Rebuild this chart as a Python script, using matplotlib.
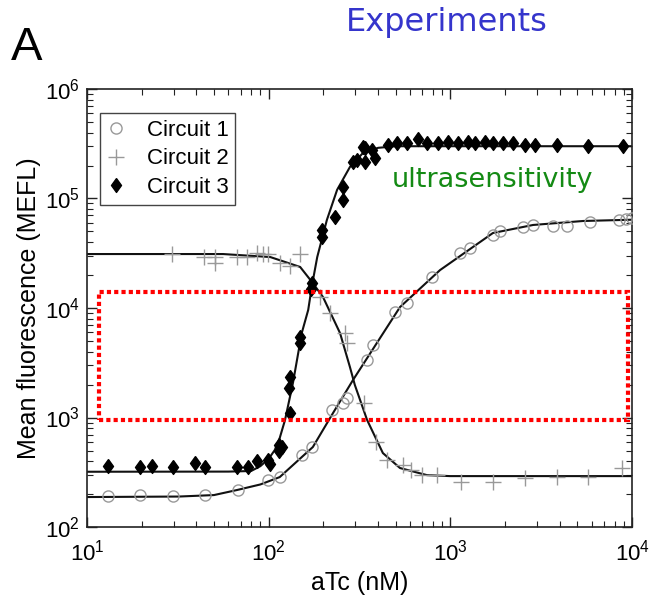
import matplotlib
matplotlib.use('Agg')
import matplotlib.pyplot as plt
from matplotlib.patches import Rectangle

plt.rcParams['font.family'] = ['Liberation Sans', 'DejaVu Sans']
plt.rcParams['mathtext.fontset'] = 'custom'
plt.rcParams['mathtext.rm'] = 'Liberation Sans'
plt.rcParams['mathtext.default'] = 'regular'

# ---------------- data ----------------
# Circuit 1 (open circles)
c1_x = [13, 19.6, 29.7, 44.6, 68, 99, 115, 152, 173, 223, 256, 270, 348, 375,
        494, 580, 792, 1130, 1285, 1714, 1876, 2500, 2850, 3650, 4370, 5850,
        8500, 9300, 10000]
c1_y = [192, 195, 192, 195, 218, 268, 286, 455, 538, 1170, 1370, 1510, 3350,
        4600, 9200, 11100, 19200, 31800, 35000, 46400, 51000, 55000, 57300,
        56000, 56000, 61000, 63500, 65000, 66000]

# Circuit 2 (plus)
c2_x = [29.4, 44, 50.5, 50.5, 67, 76, 86, 93, 99, 115, 131, 149, 192, 217,
        263, 270, 335, 390, 445, 548, 610, 700, 840, 1150, 1714, 2570, 3860,
        5720, 8800]
c2_y = [31100, 29200, 29200, 26000, 29200, 29200, 31500, 31100, 31100, 26000,
        24000, 31000, 12600, 9000, 5900, 4800, 1370, 597, 409, 370, 330, 298,
        300, 258, 258, 280, 285, 285, 346]

# Circuit 3 (filled diamonds)
c3_x = [13, 19.6, 22.8, 29.7, 39.3, 44.6, 67, 77, 86, 99, 102, 114, 114, 118,
        131, 130, 131, 149, 149, 170, 173, 196, 196, 232, 256, 256, 291, 305,
        330, 339, 339, 372, 385,
        454, 508, 577, 663, 744, 855, 970, 1100, 1250, 1366, 1550, 1714, 1946,
        2212, 2574, 2922, 3864, 5720, 8910]
c3_y = [360, 355, 360, 355, 385, 350, 355, 355, 400, 410, 380, 500, 560, 538,
        1100, 1860, 2350, 5430, 4800, 15000, 16900, 51500, 44500, 67800,
        127000, 97000, 215000, 225000, 295000, 290000, 215000, 280000, 235000,
        310000, 320000, 320000, 350000, 320000, 320000, 330000, 320000, 330000,
        320000, 330000, 320000, 320000, 320000, 310000, 310000, 310000, 300000,
        300000]

# fitted model curves
fit1_x = [10, 32, 50, 67, 90, 115, 175, 226, 291, 528, 877, 1714, 2850, 5370,
          10000]
fit1_y = [188, 190, 196, 218, 245, 286, 538, 1100, 2200, 10200, 22200, 48400,
          57300, 62300, 64000]
fit2_x = [10, 56, 102, 149, 173, 199, 247, 280, 298, 348, 425, 528, 743, 995,
          10000]
fit2_y = [31100, 31100, 29200, 23700, 17300, 12600, 5900, 2890, 1980, 950,
          474, 346, 298, 292, 292]
fit3_x = [10, 60, 80, 90, 100, 108, 115, 123, 136, 152, 165, 173, 185, 209,
          238, 280, 330, 400, 500, 10000]
fit3_y = [320, 321, 325, 360, 420, 505, 650, 950, 2070, 5900, 9600, 16000,
          29200, 63600, 120000, 194000, 260000, 290000, 300000, 300000]

series_labels = ['Circuit 1', 'Circuit 2', 'Circuit 3']

# highlighted region (red dotted box)
box_x = [11.6, 9480]
box_y = [950, 14000]

x_ticks = [10, 100, 1000, 10000]
x_tick_labels = ['$10^{1}$', '$10^{2}$', '$10^{3}$', '$10^{4}$']
y_ticks = [1e2, 1e3, 1e4, 1e5, 1e6]
y_tick_labels = ['$10^{2}$', '$10^{3}$', '$10^{4}$', '$10^{5}$', '$10^{6}$']

# ---------------- figure ----------------
fig = plt.figure(figsize=(6.49, 6.01), dpi=100)
ax = fig.add_axes([0.134, 0.123, 0.840, 0.729])

for fx, fy in ((fit1_x, fit1_y), (fit2_x, fit2_y), (fit3_x, fit3_y)):
    ax.plot(fx, fy, color='#111111', lw=1.5, zorder=2)

diamond = [(0, 1), (0.72, 0), (0, -1), (-0.72, 0), (0, 1)]

h1, = ax.plot(c1_x, c1_y, 'o', mfc='none', mec='#999999', ms=8, mew=1.0,
              zorder=3, label=series_labels[0])
h2, = ax.plot(c2_x, c2_y, '+', color='#999999', ms=11, mew=1.0, zorder=3,
              label=series_labels[1])
h3, = ax.plot(c3_x, c3_y, marker=diamond, linestyle='none', color='black',
              ms=10, zorder=4, label=series_labels[2])

ax.add_patch(Rectangle((box_x[0], box_y[0]), box_x[1] - box_x[0],
                       box_y[1] - box_y[0], fill=False, edgecolor='red',
                       lw=3, linestyle=(0, (1, 0.75)), zorder=5,
                       clip_on=False))

ax.set_xscale('log')
ax.set_yscale('log')
ax.set_xlim(10, 1e4)
ax.set_ylim(1e2, 1e6)
ax.set_xticks(x_ticks)
ax.set_xticklabels(x_tick_labels)
ax.set_yticks(y_ticks)
ax.set_yticklabels(y_tick_labels)

ax.tick_params(which='both', direction='in', top=True, right=True,
               color='#222222')
ax.tick_params(which='major', length=7, width=1, labelsize=16)
ax.tick_params(axis='x', which='major', pad=9)
ax.tick_params(axis='y', which='major', pad=5)
ax.tick_params(which='minor', length=4, width=0.8)
for s in ax.spines.values():
    s.set_linewidth(1.2)
    s.set_color('#222222')

ax.set_xlabel('aTc (nM)', fontsize=18, labelpad=4)
ax.set_ylabel('Mean fluorescence (MEFL)', fontsize=18, labelpad=3)

leg = ax.legend(handles=[h1, h2, h3], loc='upper left',
                bbox_to_anchor=(0.024, 0.945), borderaxespad=0,
                fancybox=False, edgecolor='#444444', framealpha=1,
                fontsize=16, handlelength=0.8, handletextpad=1.0,
                borderpad=0.3, labelspacing=0.35)
leg.get_frame().set_linewidth(1.0)

fig.text(11 / 649, 1 - 48 / 601, 'A', fontsize=34, va='center', ha='left',
         color='black')
fig.text(548 / 649, 1 - 23 / 601, 'Experiments', fontsize=23, va='center',
         ha='right', color='#3535cc', family='DejaVu Sans')
fig.text(392 / 649, 1 - 180 / 601, 'ultrasensitivity', fontsize=19.5,
         va='center', ha='left', color='#148a14', family='DejaVu Sans')

fig.savefig('out.png', dpi=100)
